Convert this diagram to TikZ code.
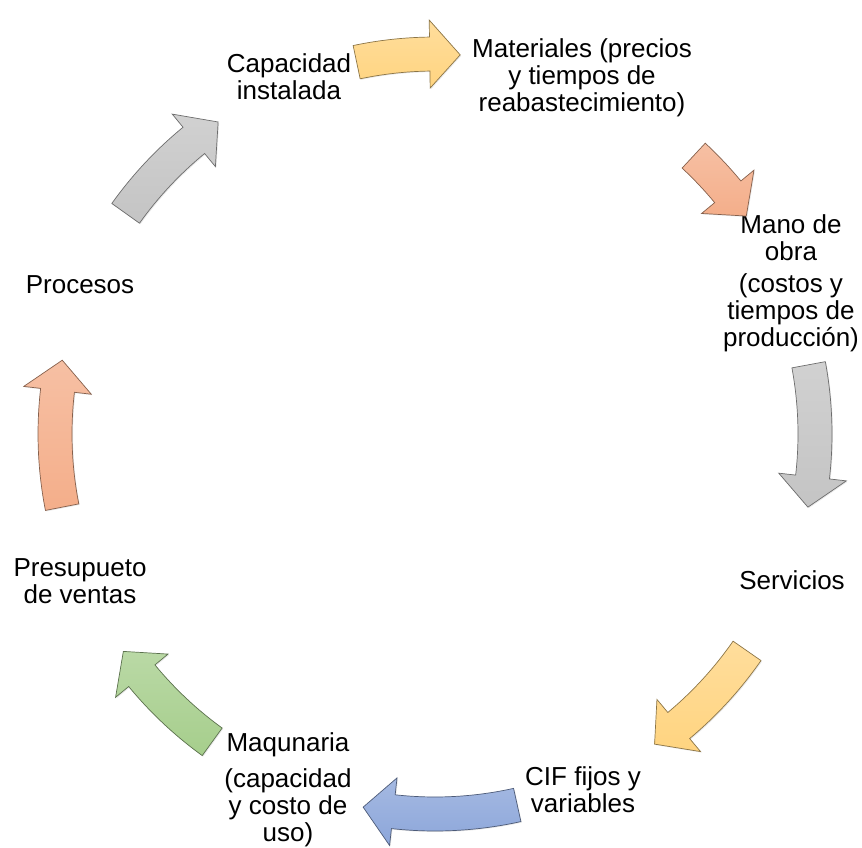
\documentclass[tikz,border=0pt]{standalone}
\usepackage{fontspec}
\setmainfont{Liberation Sans}
\usetikzlibrary{shadows}

\definecolor{arYellow}{RGB}{255,212,128}
\definecolor{arSalmon}{RGB}{244,174,138}
\definecolor{arGray}{RGB}{196,196,196}
\definecolor{arBlue}{RGB}{140,166,218}
\definecolor{arGreen}{RGB}{166,206,140}

\tikzset{
  lbl/.style={align=center, font=\fontsize{26}{27}\selectfont, inner sep=0pt},
  arrowbody/.style={draw=#1!55!black, line width=0.7pt,
    top color=#1!78!white, bottom color=#1,
    drop shadow={opacity=0.18, shadow xshift=1pt, shadow yshift=-1pt}},
}

% curved block arrow on the ring: #1 colour, #2 tail angle, #3 tip angle
\newcommand{\cycarrow}[3]{%
  \pgfmathsetmacro\headang{#3+4.6}%
  \path[arrowbody=#1]
    (#2:397) arc[start angle=#2, end angle=\headang, radius=397]
    -- (\headang:414) -- (#3:380) -- (\headang:346)
    -- (\headang:363) arc[start angle=\headang, end angle=#2, radius=363]
    -- cycle;
}

\begin{document}
\begin{tikzpicture}[x=1pt, y=-1pt]
  \useasboundingbox (0,0) rectangle (862,848);

  % labels around the cycle
  \node[lbl] (cap)  at (289,77)  {Capacidad\\instalada};
  \node[lbl] (mat)  at (582,78)  {Materiales (precios\\y tiempos de\\reabastecimiento)};
  \node[lbl] (mano) at (791,283) {Mano de\\obra\\[5pt](costos y\\tiempos de\\producción)};
  \node[lbl] (serv) at (792,580) {Servicios};
  \node[lbl] (cif)  at (583,790) {CIF fijos y\\variables};
  \node[lbl] (maq)  at (288,790) {Maqunaria\\[9pt](capacidad\\y costo de\\uso)};
  \node[lbl] (pres) at (80,581)  {Presupueto\\de ventas};
  \node[lbl] (proc) at (80,285)  {Procesos};

  % arrows between the labels, clockwise (angles counted upward)
  \begin{scope}[shift={(435,434)}, yscale=-1]
    \cycarrow{arYellow}{101.9}{86.2}
    \cycarrow{arSalmon}{47.1}{35}
    \cycarrow{arGray}{10.5}{-11.1}
    \cycarrow{arYellow}{-34.8}{-54.7}
    \cycarrow{arBlue}{-77.5}{-100.9}
    \cycarrow{arGreen}{-125.9}{-145.1}
    \cycarrow{arSalmon}{191.1}{168.8}
    \cycarrow{arGray}{144.5}{124.8}
  \end{scope}
\end{tikzpicture}
\end{document}
